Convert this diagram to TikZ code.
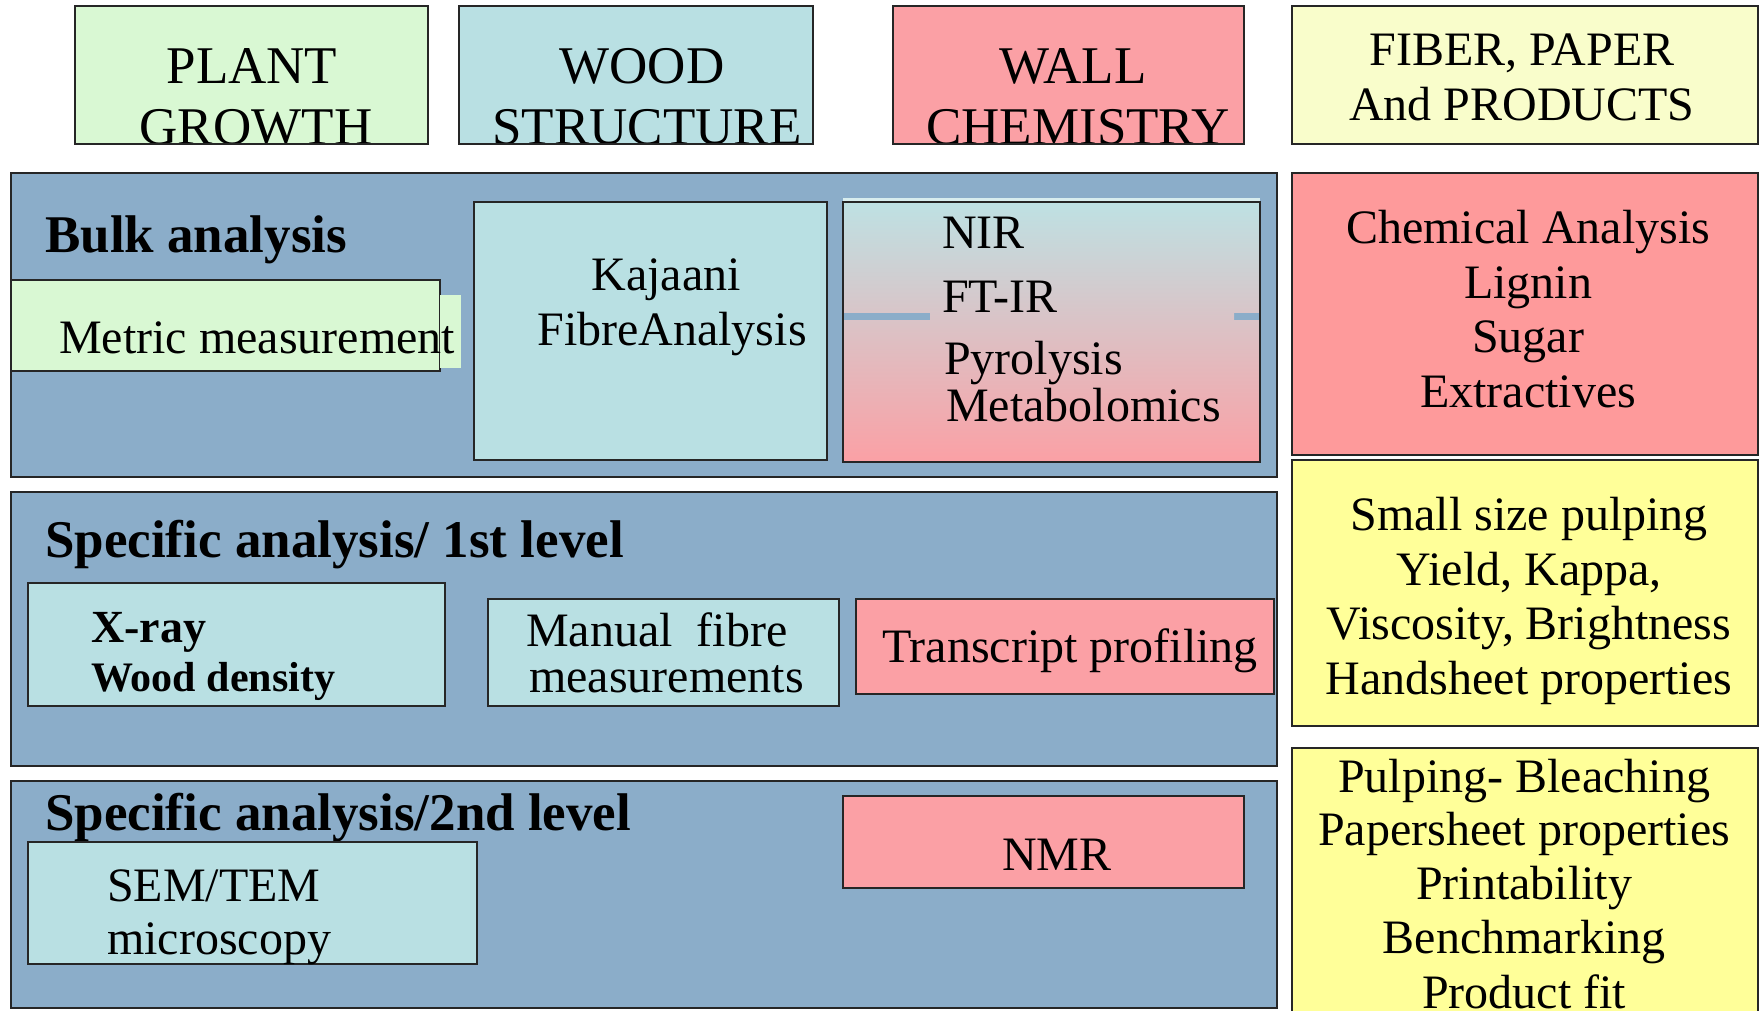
\documentclass[tikz,border=0pt]{standalone}
\usepackage{fontspec}
\setmainfont{Liberation Serif}
\definecolor{cgreen}{HTML}{D9F8D3}
\definecolor{cblue}{HTML}{B9E0E3}
\definecolor{cpink}{HTML}{FBA0A5}
\definecolor{cred}{HTML}{FE9A9B}
\definecolor{cpale}{HTML}{F9FDCB}
\definecolor{cyellow}{HTML}{FFFF99}
\definecolor{cpanel}{HTML}{8BADC9}
\definecolor{ctop}{HTML}{BEE1E3}
\tikzset{
  box/.style={draw=black!85, line width=1.6pt},
  txt/.style={inner sep=0pt, font=\fontsize{48}{54}\selectfont},
  toptxt/.style={inner sep=0pt, font=\fontsize{53}{60}\selectfont},
  hdr/.style={inner sep=0pt, font=\fontsize{53}{60}\selectfont\bfseries},
}
\begin{document}
\begin{tikzpicture}[x=1pt,y=-1pt]
\useasboundingbox (0,0) rectangle (1761,1010);
\fill[white] (0,0) rectangle (1761,1010);

% ---- top header boxes ----
\begin{scope}
  \clip (75,6) rectangle (428,144);
  \fill[cgreen] (75,6) rectangle (428,144);
  \node[toptxt, anchor=base] (plant) at (252,83) {PLANT};
  \node[toptxt, anchor=base] (growth) at (256,144) {GROWTH};
\end{scope}
\draw[box] (75,6) rectangle (428,144);

\begin{scope}
  \clip (459,6) rectangle (813,144);
  \fill[cblue] (459,6) rectangle (813,144);
  \node[toptxt, anchor=base] (wood) at (642,83) {WOOD};
  \node[toptxt, anchor=base] (structure) at (647,144) {STRUCTURE};
\end{scope}
\draw[box] (459,6) rectangle (813,144);

\begin{scope}
  \clip (893,6) rectangle (1244,144);
  \fill[cpink] (893,6) rectangle (1244,144);
  \node[toptxt, anchor=base] (wall) at (1073,83) {WALL};
  \node[toptxt, anchor=base] (chemistry) at (1078,144) {CHEMISTRY};
\end{scope}
\draw[box] (893,6) rectangle (1244,144);

\draw[box, fill=cpale] (1292,6) rectangle (1758,144);
\node[txt, anchor=base] (fiber) at (1522,65) {FIBER, PAPER};
\node[txt, anchor=base] (andprod) at (1522,120) {And PRODUCTS};

% ---- bulk analysis panel ----
\draw[box, fill=cpanel] (11,173) rectangle (1277,477);
\node[hdr, anchor=base west] (bulk) at (45,252) {Bulk analysis};
\draw[box, fill=cgreen] (11,280) rectangle (440,371);
\fill[cgreen] (440,295) rectangle (461,368);
\node[txt, anchor=base west] (metric) at (59,353) {Metric measurement};

\draw[box, fill=cblue] (474,202) rectangle (827,460);
\node[txt, anchor=base] (kajaani) at (666,290) {Kajaani};
\node[txt, anchor=base] (fibreanalysis) at (672,345) {FibreAnalysis};

\fill[ctop!60!white] (843,198) rectangle (1260,202);
\shade[top color=ctop, bottom color=cpink] (843,202) rectangle (1260,462);
\fill[cpanel] (843,313) rectangle (1260,320);
\shade[top color=ctop, bottom color=cpink] (930,202) rectangle (1234,462);
\draw[box] (843,202) rectangle (1260,462);
\node[txt, anchor=base west] (nir) at (942,248) {NIR};
\node[txt, anchor=base west] (ftir) at (942,312) {FT-IR};
\node[txt, anchor=base west] (pyrolysis) at (944,374) {Pyrolysis};
\node[txt, anchor=base west] (metabolomics) at (946,421) {Metabolomics};

% ---- right column ----
\draw[box, fill=cred] (1292,173) rectangle (1758,455);
\node[txt, anchor=base] (chem) at (1528,243) {Chemical Analysis};
\node[txt, anchor=base] (lignin) at (1528,298) {Lignin};
\node[txt, anchor=base] (sugar) at (1528,352) {Sugar};
\node[txt, anchor=base] (extractives) at (1528,407) {Extractives};

\draw[box, fill=cyellow] (1292,460) rectangle (1758,726);
\node[txt, anchor=base] (small) at (1529,530) {Small size pulping};
\node[txt, anchor=base] (yield) at (1529,585) {Yield, Kappa,};
\node[txt, anchor=base] (visc) at (1529,639) {Viscosity, Brightness};
\node[txt, anchor=base] (hand) at (1529,694) {Handsheet properties};

\draw[box, fill=cyellow] (1292,748) rectangle (1758,1040);
\node[txt, anchor=base] (pulping) at (1524,792) {Pulping- Bleaching};
\node[txt, anchor=base] (paper) at (1524,845) {Papersheet properties};
\node[txt, anchor=base] (print) at (1524,899) {Printability};
\node[txt, anchor=base] (bench) at (1524,953) {Benchmarking};
\node[txt, anchor=base] (product) at (1524,1008) {Product fit};

% ---- specific analysis 1st level ----
\draw[box, fill=cpanel] (11,492) rectangle (1277,766);
\node[hdr, anchor=base west] (spec1) at (45,557) {Specific analysis/ 1st level};
\draw[box, fill=cblue] (28,583) rectangle (445,706);
\node[inner sep=0pt, font=\fontsize{46}{52}\selectfont\bfseries, anchor=base west] (xray) at (91,642) {X-ray};
\node[inner sep=0pt, font=\fontsize{42}{48}\selectfont\bfseries, anchor=base west] (density) at (91,691) {Wood density};
\draw[box, fill=cblue] (488,599) rectangle (839,706);
\node[txt, anchor=base west] (manual) at (526,646) {Manual\ \ fibre};
\node[txt, anchor=base west] (measurements) at (529,692) {measurements};
\draw[box, fill=cpink] (856,599) rectangle (1274,694);
\node[txt, anchor=base west] (transcript) at (882,662) {Transcript profiling};

% ---- specific analysis 2nd level ----
\draw[box, fill=cpanel] (11,781) rectangle (1277,1008);
\node[hdr, anchor=base west] (spec2) at (45,830) {Specific analysis/2nd level};
\draw[box, fill=cblue] (28,842) rectangle (477,964);
\node[txt, anchor=base west] (sem) at (107,901) {SEM/TEM};
\node[txt, anchor=base west] (micro) at (107,954) {microscopy};
\draw[box, fill=cpink] (843,796) rectangle (1244,888);
\node[txt, anchor=base] (nmr) at (1057,870) {NMR};
\end{tikzpicture}
\end{document}
